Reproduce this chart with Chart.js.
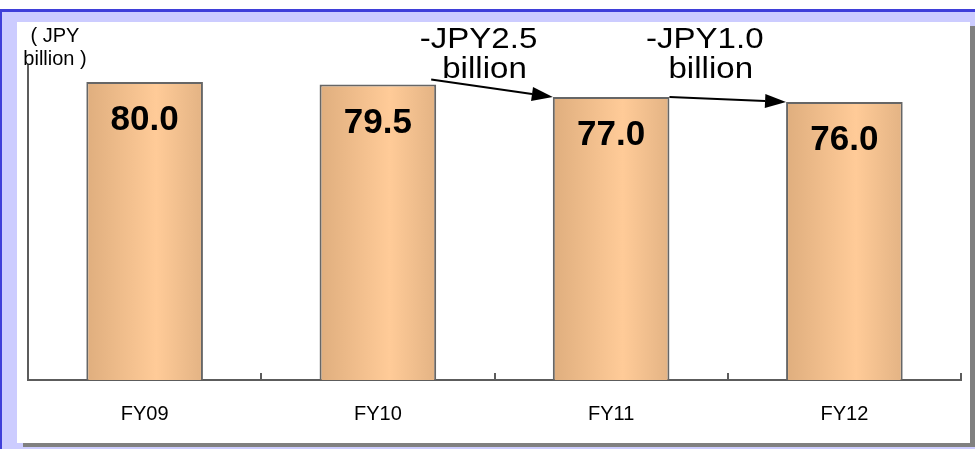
<!DOCTYPE html>
<html>
<head>
<meta charset="utf-8">
<script src="https://cdn.jsdelivr.net/npm/chart.js@4.4.1/dist/chart.umd.min.js"></script>
<style>
  html, body { margin: 0; padding: 0; }
  body { width: 975px; height: 449px; overflow: hidden; background: #fff; position: relative; font-family: "Liberation Sans", Arial, sans-serif; }
  .frame { position: absolute; left: 0; top: 9px; right: 0; bottom: 0; background: #ccccff; border-top: 3px solid #3f3fd9; border-left: 2px solid #3f3fd9; }
  .panel { position: absolute; left: 17px; top: 22px; width: 953px; height: 421px; background: #fff; box-shadow: 6px 4px 0 #808080; }
  canvas { display: block; }
</style>
</head>
<body>
<div class="frame"></div>
<div class="panel"><canvas id="salesChart" width="953" height="421"></canvas></div>
<script>
// fiscal years and sales (JPY billion)
const categories = ['FY09', 'FY10', 'FY11', 'FY12'];
const salesValues = [80.0, 79.5, 77.0, 76.0];
const unitLines = ['( JPY', 'billion )'];

// year-on-year change arrows: from bar index -> next bar
const arrowFrom = [1, 2];

const FONT = '"Liberation Sans", Arial, sans-serif';
const AXIS_COLOR = '#5c5c5c';

function barGradient(ctx) {
  const chart = ctx.chart;
  const xs = chart.scales.x;
  if (!xs || !chart.chartArea) return '#f5c28f';
  const cx = xs.getPixelForValue(ctx.dataIndex);
  const w = xs.width / categories.length * 0.5;
  const g = chart.ctx.createLinearGradient(cx - w / 2, 0, cx + w / 2, 0);
  g.addColorStop(0, '#dfae7e');
  g.addColorStop(0.6, '#ffcb98');
  g.addColorStop(1, '#e3b384');
  return g;
}

// tick marks, value labels, unit label and change arrows
const decorations = {
  id: 'decorations',
  afterDraw(chart) {
    const { ctx, chartArea, scales } = chart;
    const xs = scales.x;
    const bars = chart.getDatasetMeta(0).data;

    ctx.save();
    // small upward ticks at category boundaries
    ctx.strokeStyle = AXIS_COLOR;
    ctx.lineWidth = 2;
    for (let i = 0; i <= categories.length; i++) {
      const x = Math.round(xs.getPixelForValue(i - 0.5));
      ctx.beginPath();
      ctx.moveTo(x, chartArea.bottom);
      ctx.lineTo(x, chartArea.bottom - 7);
      ctx.stroke();
    }

    // values inside bars
    ctx.fillStyle = '#000';
    ctx.textAlign = 'center';
    ctx.textBaseline = 'alphabetic';
    ctx.font = 'bold 35px ' + FONT;
    bars.forEach((bar, i) => {
      ctx.fillText(salesValues[i].toFixed(1), bar.x, bar.y + 48);
    });

    // unit label
    ctx.font = '20px ' + FONT;
    ctx.fillText(unitLines[0], 38, 20);
    ctx.fillText(unitLines[1], 38, 43);

    // change arrows and captions
    const lift = [5, 0];
    const inset = [5, 0];
    const shift = [-13, -20];
    arrowFrom.forEach((k, n) => {
      const a = bars[k];
      const b = bars[k + 1];
      const x0 = a.x + a.width / 2 - inset[n];
      const y0 = a.y - lift[n];
      const x1 = b.x - b.width / 2;
      const y1 = b.y;
      const ang = Math.atan2(y1 - y0, x1 - x0);
      const hl = 21, hw = 7;
      const bx = x1 - hl * Math.cos(ang), by = y1 - hl * Math.sin(ang);

      ctx.strokeStyle = '#000';
      ctx.lineWidth = 2;
      ctx.beginPath();
      ctx.moveTo(x0, y0);
      ctx.lineTo(bx, by);
      ctx.stroke();
      ctx.fillStyle = '#000';
      ctx.beginPath();
      ctx.moveTo(x1, y1);
      ctx.lineTo(bx + hw * Math.sin(ang), by - hw * Math.cos(ang));
      ctx.lineTo(bx - hw * Math.sin(ang), by + hw * Math.cos(ang));
      ctx.closePath();
      ctx.fill();

      const diff = salesValues[k + 1] - salesValues[k];
      const lines = [(diff < 0 ? '-' : '+') + 'JPY' + Math.abs(diff).toFixed(1), 'billion'];
      const cx = xs.getPixelForValue(k + 0.5) + shift[n];
      ctx.font = '29px ' + FONT;
      [chartArea.top - 17, chartArea.top + 13].forEach((y, j) => {
        ctx.save();
        ctx.translate(cx + (j ? 3 : -3), y);
        ctx.scale(1.14, 1);
        ctx.fillText(lines[j], 0, 0);
        ctx.restore();
      });
    });
    ctx.restore();
  }
};

new Chart(document.getElementById('salesChart'), {
  type: 'bar',
  data: {
    labels: categories,
    datasets: [{
      data: salesValues,
      backgroundColor: barGradient,
      borderColor: '#666',
      borderWidth: 2,
      borderSkipped: 'bottom',
      categoryPercentage: 1,
      barPercentage: 0.5
    }]
  },
  options: {
    responsive: false,
    animation: false,
    devicePixelRatio: 1,
    layout: { padding: { left: 11, right: 9, top: 43, bottom: -5 } },
    plugins: { legend: { display: false }, tooltip: { enabled: false } },
    scales: {
      x: {
        grid: { display: false, drawTicks: false },
        border: { display: true, color: AXIS_COLOR, width: 2 },
        ticks: { color: '#000', padding: 22, font: { family: FONT, size: 20 } }
      },
      y: {
        min: 20.4,
        max: 83.4,
        grid: { display: false, drawTicks: false },
        border: { display: true, color: AXIS_COLOR, width: 2 },
        ticks: { display: false }
      }
    }
  },
  plugins: [decorations]
});
</script>
</body>
</html>
